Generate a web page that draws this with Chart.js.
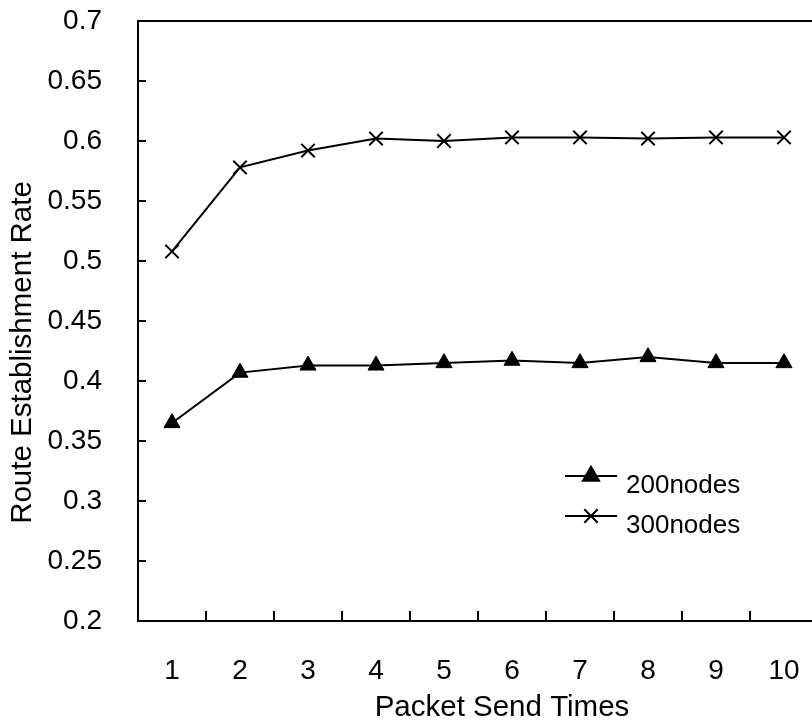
<!DOCTYPE html>
<html><head><meta charset="utf-8">
<script src="https://cdn.jsdelivr.net/npm/chart.js@4.4.0/dist/chart.umd.min.js"></script>
<style>
html,body{margin:0;padding:0;overflow:hidden;background:#fff;}
#wrap{width:830px;height:724px;position:relative;}
canvas{display:block;}
</style></head><body>
<div id="wrap"><canvas id="c" width="830" height="724"></canvas></div>
<script>
const categories = ['1','2','3','4','5','6','7','8','9','10'];
const series200 = [0.365, 0.407, 0.413, 0.413, 0.415, 0.417, 0.415, 0.420, 0.415, 0.415];
const series300 = [0.508, 0.578, 0.592, 0.602, 0.600, 0.603, 0.603, 0.602, 0.603, 0.603];
const seriesNames = ['200nodes', '300nodes'];
const yTicks = [0.2, 0.25, 0.3, 0.35, 0.4, 0.45, 0.5, 0.55, 0.6, 0.65, 0.7];
const xTitle = 'Packet Send Times';
const yTitle = 'Route Establishment Rate';
const FONT = '"Liberation Sans", Arial, sans-serif';

const decor = {
  id: 'decor',
  beforeDatasetsDraw(chart) {
    const {ctx, chartArea: a, scales: {x, y}} = chart;
    ctx.save();
    ctx.strokeStyle = '#000';
    ctx.lineWidth = 2;
    ctx.beginPath();
    ctx.rect(a.left, a.top, a.right - a.left, a.bottom - a.top);
    y.ticks.forEach((t, i) => {
      const py = y.getPixelForTick(i);
      ctx.moveTo(a.left, py); ctx.lineTo(a.left + 8, py);
    });
    for (let i = 0; i < x.ticks.length - 1; i++) {
      const px = (x.getPixelForTick(i) + x.getPixelForTick(i + 1)) / 2;
      ctx.moveTo(px, a.bottom); ctx.lineTo(px, a.bottom - 10);
    }
    ctx.stroke();
    ctx.restore();
  },
  afterDraw(chart) {
    const {ctx, chartArea: a} = chart;
    ctx.save();
    ctx.fillStyle = '#000';
    ctx.font = '29.5px ' + FONT;
    ctx.textAlign = 'center';
    ctx.textBaseline = 'middle';
    ctx.fillText(xTitle, a.left + 364, 708);
    ctx.save();
    ctx.translate(22.5, a.top + 331.5);
    ctx.rotate(-Math.PI / 2);
    ctx.fillText(yTitle, 0, 0);
    ctx.restore();
    // legend
    chart.data.datasets.forEach((ds, i) => {
      const ly = a.top + 455 + i * 40;
      const lx = a.left + 427;
      ctx.strokeStyle = '#000';
      ctx.lineWidth = 2;
      ctx.beginPath();
      ctx.moveTo(lx, ly); ctx.lineTo(lx + 52, ly);
      ctx.stroke();
      ctx.fillStyle = '#000';
      Chart.helpers.drawPoint(ctx, {
        pointStyle: ds.pointStyle, radius: ds.pointRadius,
        borderWidth: ds.pointBorderWidth, rotation: 0
      }, lx + 26, ly);
      ctx.font = '26px ' + FONT;
      ctx.textAlign = 'left';
      ctx.textBaseline = 'middle';
      ctx.fillStyle = '#000';
      ctx.fillText(ds.label, a.left + 488, ly + 10);
    });
    ctx.restore();
  }
};

new Chart(document.getElementById('c'), {
  type: 'line',
  data: {
    labels: categories,
    datasets: [
      {label: seriesNames[0], data: series200, borderColor: '#000', backgroundColor: '#000',
       borderWidth: 2, pointStyle: 'triangle', pointRadius: 9.3, pointBorderWidth: 1,
       pointBackgroundColor: '#000', pointBorderColor: '#000', tension: 0},
      {label: seriesNames[1], data: series300, borderColor: '#000', backgroundColor: '#000',
       borderWidth: 2, pointStyle: 'crossRot', pointRadius: 9.5, pointBorderWidth: 2,
       pointBackgroundColor: '#000', pointBorderColor: '#000', tension: 0}
    ]
  },
  options: {
    responsive: false, maintainAspectRatio: false, animation: false, devicePixelRatio: 1,
    layout: {padding: {top: 21, right: 12, left: 0, bottom: 0}},
    plugins: {legend: {display: false}, tooltip: {enabled: false}},
    scales: {
      x: {
        type: 'category', offset: true,
        grid: {display: false}, border: {display: false},
        ticks: {color: '#000', font: {family: FONT, size: 28}, padding: 25, maxRotation: 0, autoSkip: false},
        afterFit(s) { s.height = 103; s.paddingLeft = 0; s.paddingRight = 0; }
      },
      y: {
        min: 0.2, max: 0.7,
        grid: {display: false}, border: {display: false},
        afterBuildTicks(s) { s.ticks = yTicks.map(v => ({value: v})); },
        ticks: {color: '#000', font: {family: FONT, size: 28}, padding: 28,
                callback: v => String(+Number(v).toFixed(2))},
        afterFit(s) { s.width = 138; s.paddingTop = 0; s.paddingBottom = 0; }
      }
    }
  },
  plugins: [decor]
});
</script>
</body></html>
